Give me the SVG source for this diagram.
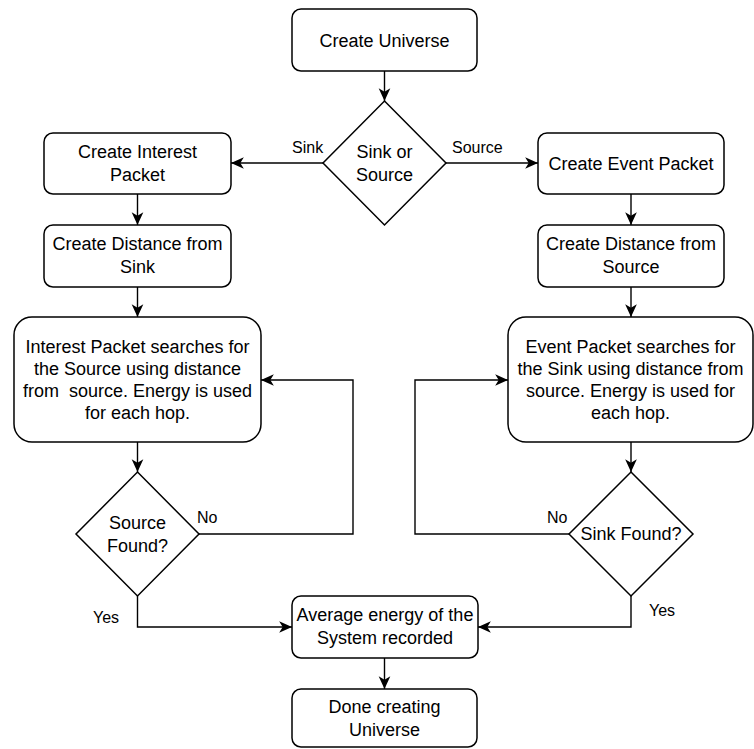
<svg xmlns="http://www.w3.org/2000/svg" width="754" height="749" viewBox="0 0 754 749">
<defs>
<style>
.box{fill:#fff;stroke:#000;stroke-width:1.5}
.t{font-family:"Liberation Sans",Arial,Helvetica,sans-serif;font-size:18px;fill:#000;text-anchor:middle}
.lbl{font-family:"Liberation Sans",Arial,Helvetica,sans-serif;font-size:16px;fill:#000}
.edge{fill:none;stroke:#000;stroke-width:1.4;marker-end:url(#arr)}
</style>
<marker id="arr" markerUnits="userSpaceOnUse" markerWidth="14" markerHeight="14" viewBox="0 0 12 12" refX="11" refY="6" orient="auto">
<path d="M0,1 L11,6 L0,11 L3,6 Z" fill="#000"/>
</marker>
</defs>
<rect width="754" height="749" fill="#fff"/>

<g id="connectors">
<path class="edge" d="M384.5,71 V101"/>
<path class="edge" d="M323,163 H231"/>
<path class="edge" d="M446,163 H538"/>
<path class="edge" d="M137.5,194 V225"/>
<path class="edge" d="M137.5,287 V317"/>
<path class="edge" d="M137.5,442 V472"/>
<path class="edge" d="M631,194 V225"/>
<path class="edge" d="M631,287 V317"/>
<path class="edge" d="M631,442 V472"/>
<path class="edge" d="M199,534 H353 V380 H261"/>
<path class="edge" d="M570,534 H415 V380 H508"/>
<path class="edge" d="M137.5,596 V627 H292"/>
<path class="edge" d="M631,596 V627 H478"/>
<path class="edge" d="M384.5,658 V689"/>
<text class="lbl" x="292" y="153">Sink</text>
<text class="lbl" x="452" y="153">Source</text>
<text class="lbl" x="197" y="523">No</text>
<text class="lbl" x="93" y="623">Yes</text>
<text class="lbl" x="547" y="523">No</text>
<text class="lbl" x="649" y="616">Yes</text>
</g>

<g id="create-universe">
<rect class="box" x="292" y="9" width="185" height="62" rx="9"/>
<text class="t" x="384.5" y="46.5">Create Universe</text>
</g>

<g id="sink-or-source">
<polygon class="box" points="384.5,101 446,163 384.5,225 323,163"/>
<text class="t" x="384.5" y="158">Sink or</text>
<text class="t" x="384.5" y="181">Source</text>
</g>

<g id="create-interest-packet">
<rect class="box" x="44" y="133" width="187" height="61" rx="9"/>
<text class="t" x="137.5" y="158">Create Interest</text>
<text class="t" x="137.5" y="181">Packet</text>
</g>

<g id="create-distance-sink">
<rect class="box" x="44" y="225" width="187" height="62" rx="9"/>
<text class="t" x="137.5" y="250">Create Distance from</text>
<text class="t" x="137.5" y="273">Sink</text>
</g>

<g id="create-event-packet">
<rect class="box" x="538" y="133" width="186" height="61" rx="9"/>
<text class="t" x="631" y="170">Create Event Packet</text>
</g>

<g id="create-distance-source">
<rect class="box" x="538" y="225" width="186" height="62" rx="9"/>
<text class="t" x="631" y="250">Create Distance from</text>
<text class="t" x="631" y="273">Source</text>
</g>

<g id="interest-search">
<rect class="box" x="14" y="317" width="247" height="125" rx="18"/>
<text class="t" x="137.5" y="353">Interest Packet searches for</text>
<text class="t" x="137.5" y="375">the Source using distance</text>
<text class="t" x="137.5" y="397" xml:space="preserve">from  source. Energy is used</text>
<text class="t" x="137.5" y="419">for each hop.</text>
</g>

<g id="event-search">
<rect class="box" x="508" y="317" width="245" height="125" rx="18"/>
<text class="t" x="630.5" y="353">Event Packet searches for</text>
<text class="t" x="630.5" y="375">the Sink using distance from</text>
<text class="t" x="630.5" y="397">source. Energy is used for</text>
<text class="t" x="630.5" y="419">each hop.</text>
</g>

<g id="source-found">
<polygon class="box" points="137.5,472 199,534 137.5,596 76,534"/>
<text class="t" x="137.5" y="529">Source</text>
<text class="t" x="137.5" y="552">Found?</text>
</g>

<g id="sink-found">
<polygon class="box" points="631,472 693,534 631,596 569,534"/>
<text class="t" x="631" y="540">Sink Found?</text>
</g>

<g id="average-energy">
<rect class="box" x="292" y="596" width="186" height="62" rx="9"/>
<text class="t" x="385" y="621">Average energy of the</text>
<text class="t" x="385" y="644">System recorded</text>
</g>

<g id="done">
<rect class="box" x="292" y="689" width="185" height="58" rx="9"/>
<text class="t" x="384.5" y="713">Done creating</text>
<text class="t" x="384.5" y="736">Universe</text>
</g>
</svg>
